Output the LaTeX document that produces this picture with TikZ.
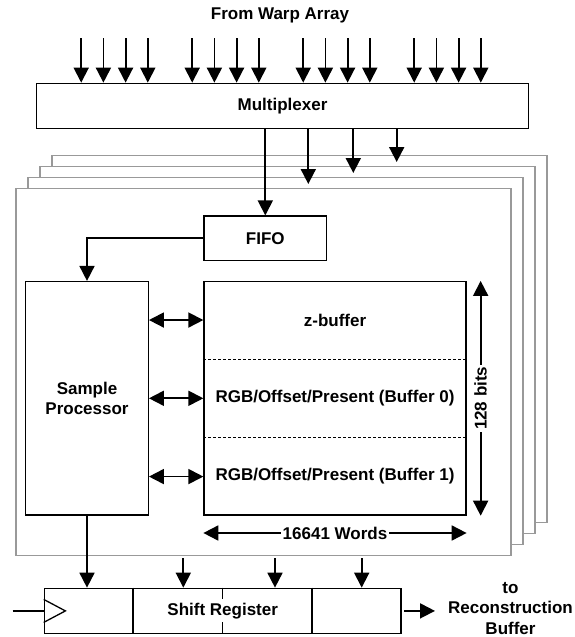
\documentclass[tikz,border=0pt]{standalone}
\usepackage{fontspec}
\setmainfont{Liberation Sans}
\usetikzlibrary{positioning, arrows.meta, calc}

\begin{document}
\begin{tikzpicture}[x=1pt, y=-1pt, >={Triangle[length=15pt, width=15pt]},
  every node/.style={font=\fontsize{17}{20.3}\selectfont\bfseries},
  block/.style={draw, line width=1.3pt, fill=white, inner sep=0pt, align=center},
  frame/.style={draw=black!40, line width=1.2pt, fill=white,
    minimum width=495pt, minimum height=367pt},
  arrow/.style={->, line width=1.8pt},
  biarrow/.style={<->, line width=1.8pt},
  wire/.style={line width=1.8pt},
  divider/.style={line width=1.5pt},
  split/.style={line width=1.3pt, dash pattern=on 2.5pt off 2.5pt},
  dim/.style={fill=white, inner sep=2pt}]

\useasboundingbox (0,0) rectangle (574,637);

% --- Input ---
\node (title) at (280,15) {From Warp Array};
\node[block, minimum width=491.6pt, minimum height=45.4pt] (mux) at (282.5,106) {Multiplexer};
\foreach \g in {0,...,3}
  \foreach \j in {0,...,3} {
    \coordinate (in\g\j) at ({81.2+111*\g+22.2*\j},38);
    \draw[arrow] (in\g\j) -- (in\g\j |- mux.north);
  }

% --- Stacked memory modules ---
\foreach \k in {3,2,1,0}
  \node[frame] (frame\k) at ({263.5+12*\k},{372.1-11*\k}) {};

% --- FIFO ---
\node[block, minimum width=122.7pt, minimum height=44.3pt] (fifo) at (265.3,238.2) {FIFO};
\draw[arrow] (mux.south -| fifo.north) -- (fifo.north);
\foreach \x/\k in {308.3/0, 353.3/1, 396.7/2} {
  \coordinate (out\k) at (\x,0);
  \draw[arrow, shorten >=4pt] (mux.south -| out\k) -- (frame\k.north -| out\k);
}

% --- Sample processor ---
\node[block, minimum width=122.6pt, minimum height=233.5pt] (sp) at (87,398.3) {Sample\\Processor};
\draw[arrow] (fifo.west) -| (sp.north);

% --- Memory ---
\node[block, minimum width=262pt, minimum height=233.5pt] (mem) at (335,398.3) {};
\draw[split] ($(mem.north west)!1/3!(mem.south west)$) -- ($(mem.north east)!1/3!(mem.south east)$);
\draw[split] ($(mem.north west)!2/3!(mem.south west)$) -- ($(mem.north east)!2/3!(mem.south east)$);
\node (zbuf) at ($(mem.north)!1/6!(mem.south)$) {z-buffer};
\node (buf0) at (mem.center) {RGB/Offset/Present (Buffer 0)};
\node (buf1) at ($(mem.north)!5/6!(mem.south)$) {RGB/Offset/Present (Buffer 1)};
\foreach \b in {zbuf, buf0, buf1}
  \draw[biarrow] (sp.east |- \b) -- (mem.west |- \b);

% --- Dimensions ---
\coordinate (bitstop) at ([xshift=14pt]mem.north east);
\coordinate (bitsbot) at ([xshift=14pt]mem.south east);
\draw[biarrow] (bitstop) -- node[dim, rotate=90] {128 bits} (bitsbot);
\coordinate (wordsl) at ([yshift=-17.3pt]mem.south west);
\coordinate (wordsr) at ([yshift=-17.3pt]mem.south east);
\draw[biarrow] (wordsl) -- node[dim] {16641 Words} (wordsr);

% --- Shift register ---
\node[block, minimum width=356.7pt, minimum height=45.2pt] (shreg) at (222.7,610.9) {};
\foreach \f in {1/4, 1/2, 3/4}
  \draw[divider] ($(shreg.north west)!\f!(shreg.north east)$) -- ($(shreg.south west)!\f!(shreg.south east)$);
\node[fill=white, inner sep=3.5pt] (shlabel) at (shreg.center) {Shift Register};
\draw[line width=1.3pt] ([yshift=11.5pt]shreg.west) -- ++(21.7,11.5) -- ++(-21.7,11.5);
\coordinate (clk) at (12.7,610.9);
\draw[wire] (clk) -- (shreg.west);

% --- Register loads ---
\draw[arrow] (sp.south) -- (sp.south |- shreg.north);
\foreach \x [count=\i] in {183.3,275,361.7} {
  \coordinate (tap\i) at (\x,558.3);
  \draw[arrow] (tap\i) -- (tap\i |- shreg.north);
}

% --- Output ---
\coordinate (recin) at (435,610.9);
\draw[arrow] ([xshift=2.5pt]shreg.east) -- (recin);
\node[align=center] (recon) at (510.5,608.5) {to\\Reconstruction\\Buffer};

\end{tikzpicture}
\end{document}
